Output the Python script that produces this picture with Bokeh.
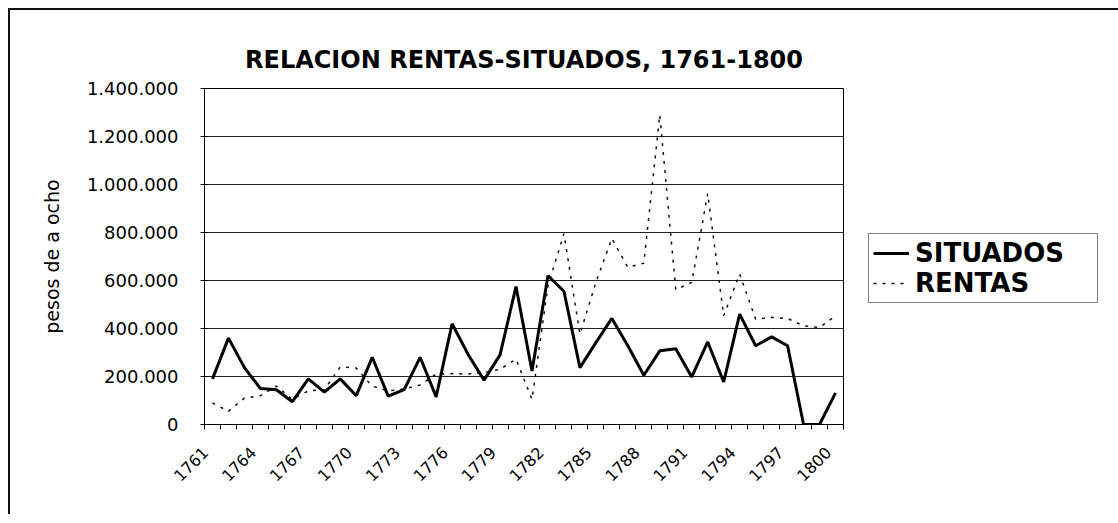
from bokeh.plotting import figure
from bokeh.models import FixedTicker, CustomJSTickFormatter, Legend, LegendItem, Range1d
from bokeh.embed import file_html
from bokeh.resources import INLINE
import math

years = list(range(1761, 1801))
situados = [190000, 360000, 237000, 150000, 145000, 95000, 190000, 135000, 190000, 120000,
            280000, 118000, 145000, 280000, 115000, 420000, 292000, 185000, 290000, 575000,
            223000, 620000, 555000, 237000, 341000, 442000, 328000, 205000, 307000, 316000,
            198000, 344000, 177000, 460000, 328000, 365000, 328000, 0, 0, 132000]
rentas = [90000, 55000, 110000, 120000, 160000, 105000, 140000, 145000, 240000, 235000,
          160000, 140000, 148000, 165000, 210000, 212000, 210000, 216000, 230000, 272000,
          105000, 578000, 795000, 376000, 592000, 775000, 655000, 672000, 1290000, 562000,
          592000, 962000, 453000, 627000, 439000, 446000, 442000, 411000, 404000, 453000]
y_ticks = [0, 200000, 400000, 600000, 800000, 1000000, 1200000, 1400000]
x_label_years = years[::3]
title_text = "RELACION RENTAS-SITUADOS, 1761-1800"
y_label = "pesos de a ocho"

FONT = "DejaVu Sans"
LABEL_SHIFT = 0.45  # rotated year labels end just left of the category centre

p = figure(frame_width=639, frame_height=336, output_backend="svg", toolbar_location=None,
           x_range=Range1d(1760.5, 1800.5), y_range=Range1d(0, 1400000),
           min_border_left=194, min_border_right=263, min_border_top=78, min_border_bottom=90)
p.styles = {"margin-left": "8px", "margin-top": "8px",
            "border-top": "2px solid #111", "border-left": "2px solid #111"}

p.title.text = title_text
p.title.align = "center"
p.title.text_font = FONT
p.title.text_font_size = "24px"
p.title.text_font_style = "bold"
p.title.text_color = "black"
p.title.standoff = 30

p.outline_line_color = "black"
p.outline_line_width = 1
p.background_fill_color = "white"
p.border_fill_color = "white"

p.xgrid.visible = False
p.ygrid.ticker = FixedTicker(ticks=y_ticks)
p.ygrid.grid_line_color = "#222222"
p.ygrid.grid_line_width = 1

# y axis
ya = p.yaxis[0]
ya.ticker = FixedTicker(ticks=y_ticks)
ya.formatter = CustomJSTickFormatter(code="""
return Math.round(tick).toString().replace(/\\B(?=(\\d{3})+(?!\\d))/g, '.');
""")
ya.axis_label = y_label
ya.axis_label_text_font = FONT
ya.axis_label_text_font_size = "19px"
ya.axis_label_text_font_style = "normal"
ya.axis_label_text_color = "black"
ya.axis_label_standoff = 21
ya.major_label_text_font = FONT
ya.major_label_text_font_size = "18px"
ya.major_label_text_color = "black"
ya.major_tick_out = 4
ya.major_tick_in = 4
ya.minor_tick_out = 0
ya.minor_tick_in = 0
ya.major_label_standoff = 22
ya.axis_line_color = "black"

# x axis
xa = p.xaxis[0]
xa.ticker = FixedTicker(ticks=[y - LABEL_SHIFT for y in x_label_years],
                        minor_ticks=[y - 0.5 for y in range(1761, 1802)])
xa.formatter = CustomJSTickFormatter(args=dict(shift=LABEL_SHIFT),
                                     code="return Math.round(tick + shift).toString();")
xa.major_label_orientation = math.pi / 4
xa.major_label_text_font = FONT
xa.major_label_text_font_size = "16px"
xa.major_label_text_color = "black"
xa.major_tick_out = 0
xa.major_tick_in = 0
xa.minor_tick_out = 5
xa.minor_tick_in = 0
xa.minor_tick_line_color = "black"
xa.major_label_standoff = 20
xa.axis_line_color = "black"

r1 = p.line(years, situados, line_color="black", line_width=3)
r2 = p.line(years, rentas, line_color="#111111", line_width=1.5, line_dash="3 6")

legend = Legend(items=[LegendItem(label="SITUADOS", renderers=[r1]),
                       LegendItem(label="RENTAS", renderers=[r2])],
                location=(25, 121))
legend.label_text_font = FONT
legend.label_text_font_size = "26px"
legend.label_text_font_style = "bold"
legend.label_text_color = "black"
legend.label_standoff = 6
legend.glyph_width = 36
legend.glyph_height = 30
legend.label_height = 30
legend.label_width = 178
legend.spacing = 0
legend.padding = 4
legend.margin = 0
legend.border_line_color = "black"
legend.border_line_width = 1
legend.background_fill_alpha = 1
p.add_layout(legend, "right")

open("out.html", "w").write(file_html(p, INLINE))
